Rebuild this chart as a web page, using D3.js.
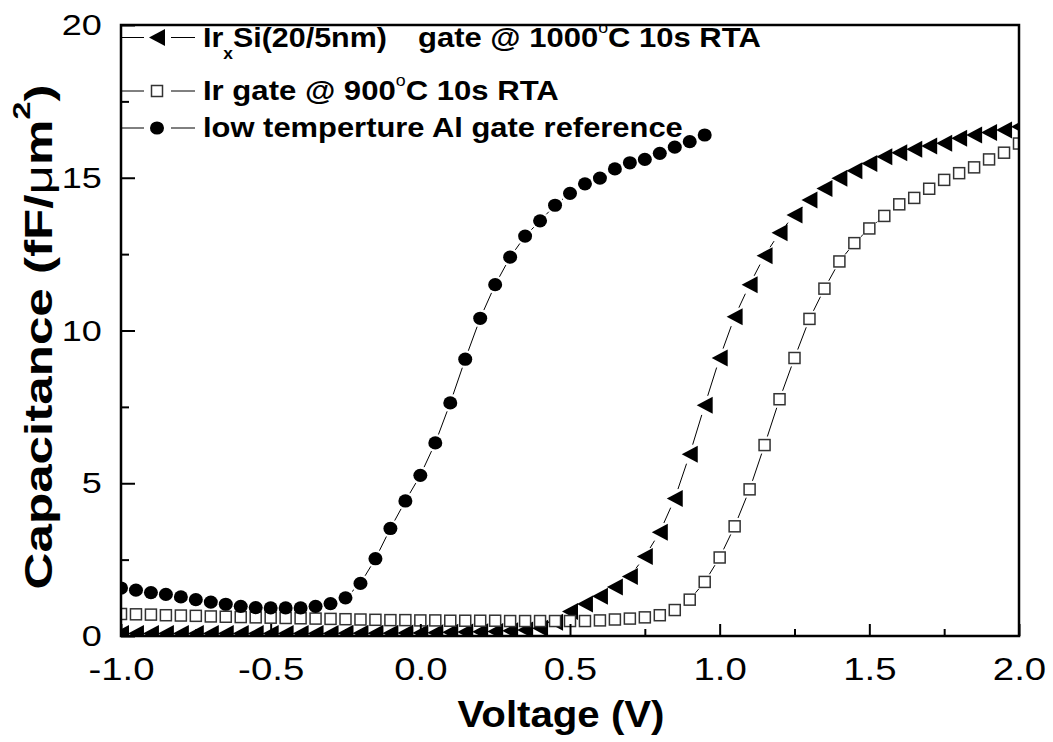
<!DOCTYPE html>
<html>
<head>
<meta charset="utf-8">
<script src="https://cdn.jsdelivr.net/npm/d3@7"></script>
<style>
  body { margin: 0; background: #fff; }
  svg { display: block; font-family: "Liberation Sans", Arial, sans-serif; }
</style>
</head>
<body>
<div id="chart"></div>
<script>
// gate bias sweep (V), 0.05 V steps
const voltage = [-1.00,-0.95,-0.90,-0.85,-0.80,-0.75,-0.70,-0.65,-0.60,-0.55,
  -0.50,-0.45,-0.40,-0.35,-0.30,-0.25,-0.20,-0.15,-0.10,-0.05,
  0.00,0.05,0.10,0.15,0.20,0.25,0.30,0.35,0.40,0.45,
  0.50,0.55,0.60,0.65,0.70,0.75,0.80,0.85,0.90,0.95,
  1.00,1.05,1.10,1.15,1.20,1.25,1.30,1.35,1.40,1.45,
  1.50,1.55,1.60,1.65,1.70,1.75,1.80,1.85,1.90,1.95,2.00];

// IrxSi gate @ 1000C (filled triangles)
const irsiCap = [0.08,0.08,0.08,0.08,0.08,0.08,0.08,0.08,0.08,0.08,
  0.08,0.08,0.08,0.08,0.08,0.09,0.09,0.09,0.09,0.10,
  0.10,0.11,0.12,0.13,0.14,0.15,0.17,0.20,0.25,0.45,
  0.80,1.05,1.30,1.60,1.95,2.60,3.40,4.50,5.95,7.55,
  9.10,10.45,11.50,12.45,13.20,13.78,14.27,14.65,14.98,15.23,
  15.47,15.69,15.82,15.93,16.04,16.13,16.29,16.40,16.48,16.56,16.67];

// Ir gate @ 900C (open squares)
const irCap = [0.72,0.71,0.70,0.68,0.67,0.66,0.64,0.63,0.62,0.61,
  0.60,0.59,0.58,0.57,0.56,0.55,0.54,0.53,0.52,0.52,
  0.51,0.51,0.50,0.50,0.50,0.50,0.49,0.49,0.49,0.49,
  0.49,0.49,0.51,0.54,0.57,0.61,0.68,0.85,1.19,1.77,
  2.57,3.59,4.80,6.25,7.75,9.10,10.38,11.37,12.26,12.86,
  13.34,13.75,14.13,14.34,14.64,14.93,15.15,15.34,15.60,15.82,16.12];

// low temperature Al gate reference (filled circles), -1.0 .. 0.95 V
const alCap = [1.57,1.50,1.42,1.36,1.28,1.19,1.11,1.04,0.97,0.93,
  0.92,0.92,0.92,0.97,1.06,1.25,1.72,2.53,3.52,4.42,
  5.26,6.32,7.63,9.06,10.40,11.50,12.40,13.09,13.59,14.10,
  14.49,14.80,14.99,15.29,15.49,15.60,15.80,16.00,16.18,16.40];

const xTicks = [-1.0, -0.5, 0.0, 0.5, 1.0, 1.5, 2.0];
const xMinorTicks = [-0.75, -0.25, 0.25, 0.75, 1.25, 1.75];
const yTicks = [0, 5, 10, 15, 20];
const yMinorTicks = [2.5, 7.5, 12.5, 17.5];

const width = 1053, height = 742;
const plotLeft = 121, plotRight = 1019, plotTop = 25, plotBottom = 636;

const x = d3.scaleLinear().domain([-1, 2]).range([plotLeft, plotRight]);
const y = d3.scaleLinear().domain([0, 20]).range([plotBottom, plotTop]);

const svg = d3.select("#chart").append("svg")
    .attr("width", width)
    .attr("height", height);

svg.append("rect").attr("width", width).attr("height", height).attr("fill", "#fff");

svg.append("clipPath").attr("id", "plotClip")
  .append("rect")
    .attr("x", plotLeft).attr("y", plotTop)
    .attr("width", plotRight - plotLeft).attr("height", plotBottom - plotTop);

// stretch a text element horizontally (around x0) so it spans target px
function fitWidth(sel, x0, target) {
  const w = sel.node().getBBox().width;
  sel.attr("transform", `translate(${x0},0) scale(${target / w},1) translate(${-x0},0)`);
}

// marker shapes
const triPath = "M-8,0L8,-8.5L8,8.5Z";
function drawTriangle(g, px, py) {
  g.append("path").attr("d", triPath)
    .attr("transform", `translate(${px},${py})`)
    .attr("fill", "#000");
}
function drawSquare(g, px, py) {
  g.append("rect")
    .attr("x", px - 5.5).attr("y", py - 5.5)
    .attr("width", 11).attr("height", 11)
    .attr("fill", "#fff").attr("stroke", "#333").attr("stroke-width", 1.5);
}
function drawCircle(g, px, py) {
  g.append("ellipse").attr("cx", px).attr("cy", py)
    .attr("rx", 7).attr("ry", 6.6).attr("fill", "#000");
}

// ---- legend ----
const legend = svg.append("g").attr("class", "legend");
const legendRows = [
  { y: 37.5, marker: drawTriangle },
  { y: 91, marker: drawSquare },
  { y: 128, marker: drawCircle }
];
legendRows.forEach(r => {
  legend.append("line").attr("x1", plotLeft).attr("x2", 144).attr("y1", r.y).attr("y2", r.y)
    .attr("stroke", "#000").attr("stroke-width", 1);
  legend.append("line").attr("x1", 171).attr("x2", 195).attr("y1", r.y).attr("y2", r.y)
    .attr("stroke", "#000").attr("stroke-width", 1);
  r.marker(legend, 157, r.y);
});

function legendText(xp, yp) {
  return legend.append("text").attr("x", xp).attr("y", yp)
    .attr("font-size", 28).attr("font-weight", "bold");
}
// row 1, part a
const r1a = legendText(203, 46.7);
r1a.append("tspan").text("Ir");
r1a.append("tspan").attr("font-size", 16).attr("dy", 12).text("x");
r1a.append("tspan").attr("dy", -12).text("Si(20/5nm)");
fitWidth(r1a, 203, 184);
// row 1, part b
const r1b = legendText(418, 46.7);
r1b.append("tspan").text("gate @ 1000");
r1b.append("tspan").attr("font-size", 16).attr("font-weight", "normal").attr("dy", -14).text("o");
r1b.append("tspan").attr("dy", 14).text("C 10s RTA");
fitWidth(r1b, 418, 343);
// row 2
const r2 = legendText(203, 100);
r2.append("tspan").text("Ir gate @ 900");
r2.append("tspan").attr("font-size", 16).attr("font-weight", "normal").attr("dy", -14).text("o");
r2.append("tspan").attr("dy", 14).text("C 10s RTA");
fitWidth(r2, 203, 356);
// row 3
const r3 = legendText(203, 136.7).text("low temperture Al gate reference");
fitWidth(r3, 203, 480);

// ---- data ----
const plot = svg.append("g").attr("clip-path", "url(#plotClip)");

function seriesPoints(vals) {
  return vals.map((v, i) => [x(voltage[i]), y(v)]);
}

// connecting lines with small gaps around the markers
function drawLinks(pts, gap) {
  for (let i = 0; i < pts.length - 1; i++) {
    const [x0, y0] = pts[i], [x1, y1] = pts[i + 1];
    const dx = x1 - x0, dy = y1 - y0;
    const L = Math.hypot(dx, dy);
    if (L <= 2 * gap + 1) continue;
    const ux = dx / L, uy = dy / L;
    plot.append("line")
      .attr("x1", x0 + ux * gap).attr("y1", y0 + uy * gap)
      .attr("x2", x1 - ux * gap).attr("y2", y1 - uy * gap)
      .attr("stroke", "#000").attr("stroke-width", 1);
  }
}

const triPts = seriesPoints(irsiCap);
const sqPts = seriesPoints(irCap);
const alPts = seriesPoints(alCap);

drawLinks(triPts, 10);
drawLinks(sqPts, 9);
drawLinks(alPts, 9);

triPts.forEach(p => drawTriangle(plot, p[0], p[1]));
sqPts.forEach(p => drawSquare(plot, p[0], p[1]));
alPts.forEach(p => drawCircle(plot, p[0], p[1]));

// ---- axes ----
const xAxis = svg.append("g").attr("transform", `translate(0,${plotBottom})`)
  .call(d3.axisBottom(x).tickValues(xTicks).tickFormat(d => d.toFixed(1))
    .tickSizeInner(-12).tickSizeOuter(0).tickPadding(21));
svg.append("g").attr("transform", `translate(0,${plotBottom})`)
  .call(d3.axisBottom(x).tickValues(xMinorTicks).tickFormat("")
    .tickSizeInner(-7).tickSizeOuter(0));

const yAxis = svg.append("g").attr("transform", `translate(${plotLeft},0)`)
  .call(d3.axisLeft(y).tickValues(yTicks).tickFormat(d => String(d))
    .tickSizeInner(-14).tickSizeOuter(0).tickPadding(16));
svg.append("g").attr("transform", `translate(${plotLeft},0)`)
  .call(d3.axisLeft(y).tickValues(yMinorTicks).tickFormat("")
    .tickSizeInner(-8).tickSizeOuter(0));

svg.selectAll(".domain").remove();
svg.selectAll(".tick line").attr("stroke", "#000").attr("stroke-width", 2);

xAxis.selectAll("text")
  .attr("font-size", 32)
  .attr("font-family", "'Liberation Sans', Arial, sans-serif")
  .attr("fill", "#000")
  .attr("transform", "scale(1.2,1)");
yAxis.selectAll("text")
  .attr("font-size", 30)
  .attr("font-family", "'Liberation Sans', Arial, sans-serif")
  .attr("fill", "#000")
  .attr("transform", "scale(1.2,1)");

// frame
svg.append("rect")
  .attr("x", plotLeft).attr("y", plotTop)
  .attr("width", plotRight - plotLeft).attr("height", plotBottom - plotTop)
  .attr("fill", "none").attr("stroke", "#000").attr("stroke-width", 2.5);

// ---- axis titles ----
const xTitle = svg.append("text")
  .attr("x", 561).attr("y", 727)
  .attr("text-anchor", "middle")
  .attr("font-size", 37).attr("font-weight", "bold")
  .text("Voltage (V)");
fitWidth(xTitle, 561, 207);

const yTitle = svg.append("text")
  .attr("text-anchor", "middle")
  .attr("font-size", 38).attr("font-weight", "bold");
yTitle.append("tspan").text("Capacitance (fF/");
yTitle.append("tspan").attr("font-weight", "normal").text("\u03bc");
yTitle.append("tspan").text("m");
yTitle.append("tspan").attr("font-size", 24).attr("dy", -22).text("2");
yTitle.append("tspan").attr("dy", 22).text(")");
const yw = yTitle.node().getBBox().width;
yTitle.attr("transform", `translate(52,337) rotate(-90) scale(${505 / yw},1)`);
</script>
</body>
</html>
